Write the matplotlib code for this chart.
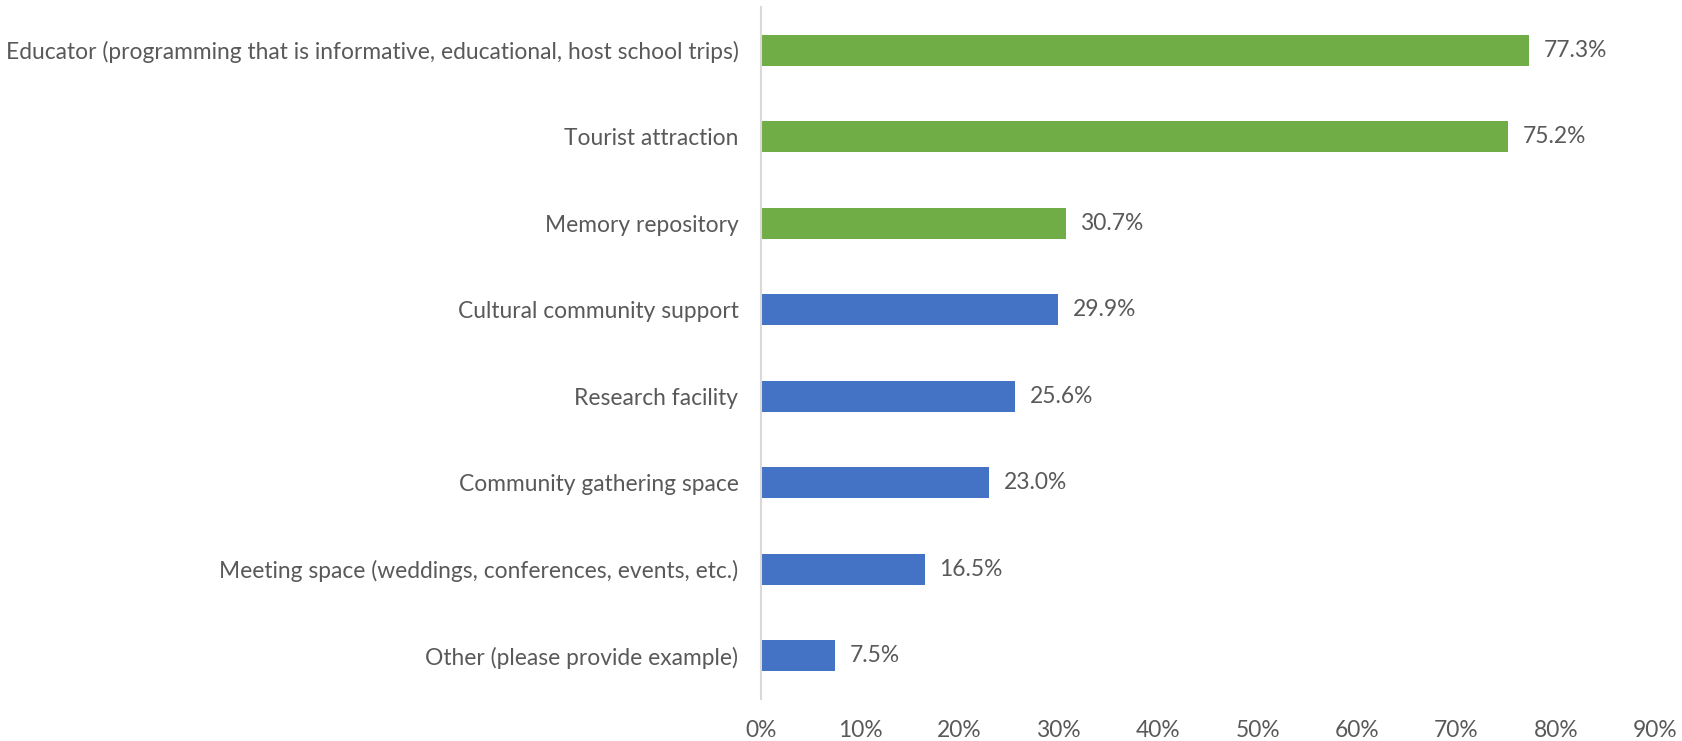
import matplotlib.pyplot as plt
from matplotlib.ticker import PercentFormatter

plt.rcParams['font.family'] = ['Lato', 'DejaVu Sans']

categories = [
    "Educator (programming that is informative, educational, host school trips)",
    "Tourist attraction",
    "Memory repository",
    "Cultural community support",
    "Research facility",
    "Community gathering space",
    "Meeting space (weddings, conferences, events, etc.)",
    "Other (please provide example)",
]
values = [77.3, 75.2, 30.7, 29.9, 25.6, 23.0, 16.5, 7.5]
highlight = [True, True, True, False, False, False, False, False]

green = "#70AD47"
blue = "#4472C4"
grey = "#595959"

fig = plt.figure(figsize=(16.83, 7.41), dpi=100)
ax = fig.add_axes([0.452, 0.0567, 0.5314, 0.934])

ypos = list(range(len(categories)))
colors = [green if h else blue for h in highlight]
bars = ax.barh(ypos, values, height=0.36, color=colors)
ax.set_ylim(len(categories) - 0.5, -0.5)
ax.set_xlim(0, 90)

for b, v in zip(bars, values):
    ax.text(b.get_width() + 1.5, b.get_y() + b.get_height() / 2, f"{v:.1f}%",
            va="center", ha="left", fontsize=16.4, color=grey)

ax.set_yticks(ypos)
ax.set_yticklabels(categories, fontsize=16.4, color=grey)
ax.set_xticks(range(0, 91, 10))
ax.xaxis.set_major_formatter(PercentFormatter(decimals=0))
ax.tick_params(axis="x", labelsize=16.4, colors=grey, length=0, pad=15)
ax.tick_params(axis="y", length=0, pad=16)

for s in ["top", "right", "bottom"]:
    ax.spines[s].set_visible(False)
ax.spines["left"].set_color("#D9D9D9")
ax.spines["left"].set_linewidth(1.5)

fig.savefig("out.png", dpi=100)
